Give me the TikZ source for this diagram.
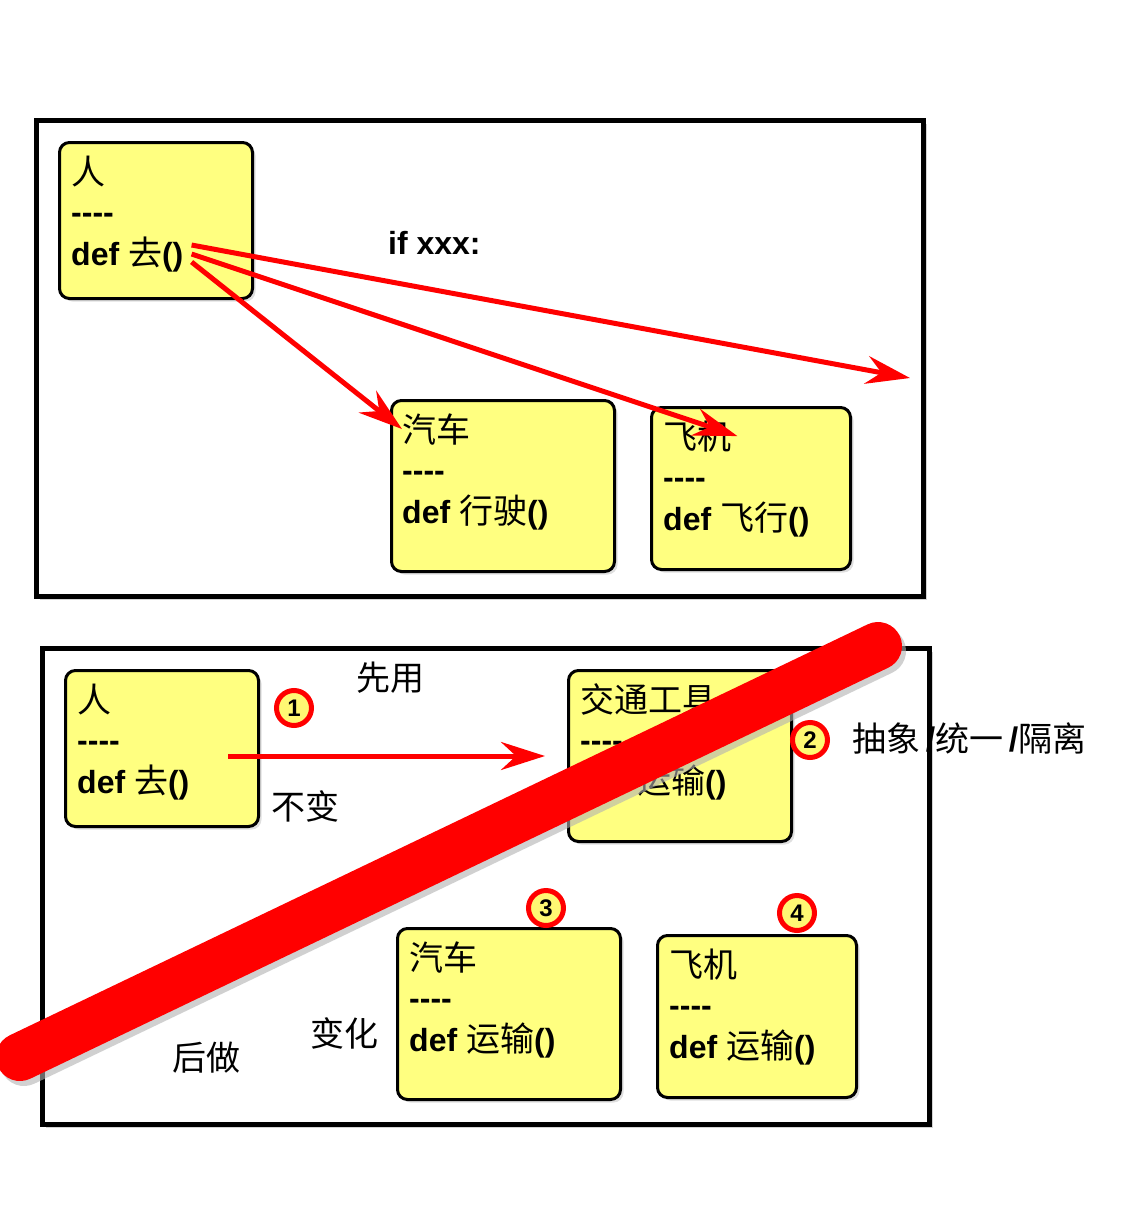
\documentclass[tikz,border=0pt]{standalone}
\usepackage{fontspec}
\setsansfont{Liberation Sans}
\newfontfamily\cjk{Noto Sans CJK SC}
\usetikzlibrary{arrows.meta, shadows, positioning}

\definecolor{boxyellow}{RGB}{255,255,128}
\newcommand{\zh}[1]{{\cjk\mdseries\fontsize{34}{34}\selectfont #1}}
\newcommand{\sep}{-\kern0pt-\kern0pt-\kern0pt-}

\tikzset{
	frame/.style={draw, line width=4.5pt, fill=white, anchor=north west, inner sep=0pt,
		drop shadow={opacity=.35, shadow xshift=4pt, shadow yshift=-4pt}},
	clsbox/.style={draw, line width=3pt, rounded corners=10pt, fill=boxyellow, anchor=north west, inner sep=0pt,
		drop shadow={opacity=.25, shadow xshift=3pt, shadow yshift=-3pt}},
	cn/.style={anchor=base west, inner sep=0pt, font=\cjk\fontsize{34}{34}\selectfont},
	code/.style={anchor=base west, inner sep=0pt, font=\sffamily\bfseries\fontsize{32}{32}\selectfont},
	note/.style={inner sep=0pt, font=\cjk\fontsize{34}{34}\selectfont},
	redarrow/.style={red, line width=5pt, -{Stealth[length=44pt, width=28pt, inset=15pt]}},
	badge/.style={circle, draw=red, line width=5pt, fill=yellow!55, inner sep=0pt, minimum size=35pt,
		font=\sffamily\bfseries\fontsize{24}{24}\selectfont},
}

\begin{document}
\begin{tikzpicture}[x=1pt, y=-1pt]
	\useasboundingbox (0,0) rectangle (1128,1205);

	% direct call
	\node[frame, minimum width=887pt, minimum height=476pt] (upper) at (34,118) {};

	\node[clsbox, minimum width=193pt, minimum height=156pt] (ren1) at (58,141) {};
	\node[cn] (ren1t) at ([shift={(13,43)}]ren1.north west) {人};
	\node[code] (ren1d) at ([shift={(13,82)}]ren1.north west) {\sep};
	\node[code] (go1) at ([shift={(13,124)}]ren1.north west) {def \zh{去}()};

	\node[clsbox, minimum width=223pt, minimum height=171pt] (car1) at (390,399) {};
	\node[cn] (car1t) at ([shift={(12,43)}]car1.north west) {汽车};
	\node[code] (car1d) at ([shift={(12,82)}]car1.north west) {\sep};
	\node[code] (drive1) at ([shift={(12,124)}]car1.north west) {def \zh{行驶}()};

	\node[clsbox, minimum width=199pt, minimum height=162pt] (plane1) at (650,406) {};
	\node[cn] (plane1t) at ([shift={(13,43)}]plane1.north west) {飞机};
	\node[code] (plane1d) at ([shift={(13,82)}]plane1.north west) {\sep};
	\node[code] (fly1) at ([shift={(13,124)}]plane1.north west) {def \zh{飞行}()};

	\node[code] (cond) at (388,254) {if xxx:};

	\coordinate (out) at (910,378);
	\draw[redarrow] ([shift={(8,-9)}]go1.east) -- (out);
	\draw[redarrow] ([shift={(8,0)}]go1.east) -- ([xshift=6pt]plane1t.east);
	\draw[redarrow] ([shift={(8,8)}]go1.east) -- (car1t.west);

	% through an abstraction
	\node[frame, minimum width=887pt, minimum height=476pt] (lower) at (40,646) {};

	\node[clsbox, minimum width=193pt, minimum height=156pt] (ren2) at (64,669) {};
	\node[cn] (ren2t) at ([shift={(13,43)}]ren2.north west) {人};
	\node[code] (ren2d) at ([shift={(13,82)}]ren2.north west) {\sep};
	\node[code] (go2) at ([shift={(13,124)}]ren2.north west) {def \zh{去}()};

	\node[clsbox, minimum width=223pt, minimum height=171pt] (vehicle) at (567,669) {};
	\node[cn] (vehiclet) at ([shift={(13,43)}]vehicle.north west) {交通工具};
	\node[code] (vehicled) at ([shift={(13,82)}]vehicle.north west) {\sep};
	\node[code] (ship0) at ([shift={(13,124)}]vehicle.north west) {def \zh{运输}()};

	\node[clsbox, minimum width=223pt, minimum height=171pt] (car2) at (396,927) {};
	\node[cn] (car2t) at ([shift={(13,43)}]car2.north west) {汽车};
	\node[code] (car2d) at ([shift={(13,82)}]car2.north west) {\sep};
	\node[code] (ship1) at ([shift={(13,124)}]car2.north west) {def \zh{运输}()};

	\node[clsbox, minimum width=199pt, minimum height=162pt] (plane2) at (656,934) {};
	\node[cn] (plane2t) at ([shift={(13,43)}]plane2.north west) {飞机};
	\node[code] (plane2d) at ([shift={(13,82)}]plane2.north west) {\sep};
	\node[code] (ship2) at ([shift={(13,124)}]plane2.north west) {def \zh{运输}()};

	\coordinate (a1) at (228,756);
	\draw[redarrow] (a1) -- ([xshift=-22pt]vehicle.west |- a1);

	\node[note] (first) at (390,678) {先用};
	\node[note] (fixed) at (305,806) {不变};
	\node[note] (vary) at (344,1033) {变化};
	\node[note] (later) at (206,1058) {后做};
	\node[note, anchor=west] (why) at (852,738) {抽象\,{\sffamily\bfseries /}统一\,{\sffamily\bfseries /}隔离};

	\node[badge] (b1) at (294,708) {1};
	\node[badge] (b2) at (810,740) {2};
	\node[badge] (b3) at (546,908) {3};
	\node[badge] (b4) at (797,913) {4};

	% strike through
	\coordinate (s1) at (878,646);
	\coordinate (s2) at (20,1057);
	\draw[black!30, line width=48pt, line cap=round, opacity=.6] ([shift={(4,5)}]s1) -- ([shift={(4,5)}]s2);
	\draw[red, line width=48pt, line cap=round] (s1) -- (s2);
\end{tikzpicture}
\end{document}
